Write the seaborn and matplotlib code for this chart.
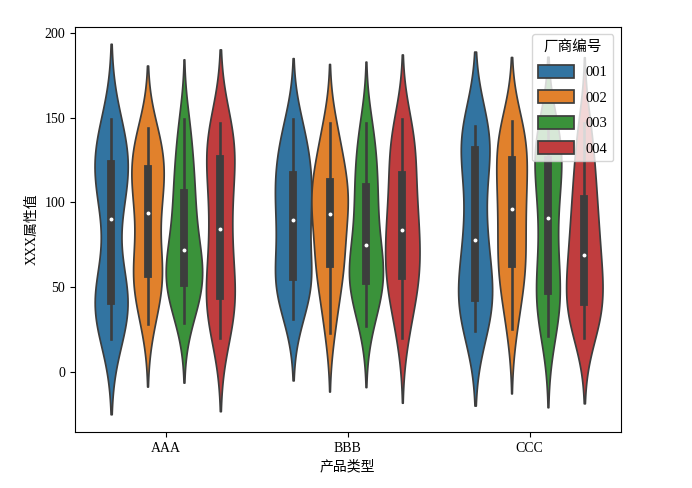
import pandas as pd
import numpy as np
import matplotlib
matplotlib.use("Agg")
import matplotlib.pyplot as plt
import seaborn as sns

plt.rcParams['font.family'] = ['Liberation Serif', 'Noto Sans CJK SC']
plt.rcParams['axes.unicode_minus'] = False

categories = ['AAA', 'BBB', 'CCC']
vendors = ['001', '002', '003', '004']

aaa_001 = [19.5, 28, 34, 38, 40, 42.5, 45, 48, 55, 84, 96, 108, 113, 117, 122, 124, 128, 134, 141, 149]
aaa_002 = [28, 38, 46, 52, 56, 58, 63, 70, 80, 90, 97, 104, 110, 114, 118, 124, 128, 133, 138, 144]
aaa_003 = [29, 38, 44, 48, 51, 53, 57, 61, 65, 69, 75, 80, 88, 97, 104, 110, 118, 128, 138, 149]
aaa_004 = [20, 28, 35, 40, 43, 45, 52, 62, 72, 80, 88, 98, 108, 116, 124, 130, 134, 138, 142, 147]

bbb_001 = [31, 40, 47, 52, 55, 56, 62, 72, 80, 86, 93, 98, 104, 110, 115, 120, 126, 133, 140, 149]
bbb_002 = [23, 36, 48, 56, 62, 64, 70, 78, 86, 91, 95, 99, 104, 108, 111, 116, 122, 130, 138, 147]
bbb_003 = [27, 37, 44, 49, 52, 54, 58, 62, 66, 72, 78, 85, 94, 102, 107, 114, 122, 130, 138, 147]
bbb_004 = [20, 33, 43, 50, 55, 57, 63, 70, 76, 81, 86, 92, 99, 106, 114, 123, 129, 135, 142, 149]

ccc_001 = [24, 30, 35, 39, 42, 44, 50, 58, 66, 74, 82, 92, 104, 118, 130, 134, 137, 140, 142, 145]
ccc_002 = [25, 38, 48, 56, 62, 64, 70, 78, 86, 93, 99, 105, 111, 118, 123, 130, 135, 139, 143, 148]
ccc_003 = [21, 30, 37, 42, 46, 48, 56, 66, 76, 86, 95, 104, 112, 118, 124, 129, 133, 137, 140, 144]
ccc_004 = [20, 27, 33, 37, 40, 42, 48, 55, 61, 66, 72, 78, 85, 93, 100, 107, 116, 126, 137, 147]

groups = {
    ('AAA', '001'): aaa_001, ('AAA', '002'): aaa_002, ('AAA', '003'): aaa_003, ('AAA', '004'): aaa_004,
    ('BBB', '001'): bbb_001, ('BBB', '002'): bbb_002, ('BBB', '003'): bbb_003, ('BBB', '004'): bbb_004,
    ('CCC', '001'): ccc_001, ('CCC', '002'): ccc_002, ('CCC', '003'): ccc_003, ('CCC', '004'): ccc_004,
}

rows = []
for (cat, ven), vals in groups.items():
    for v in vals:
        rows.append({'产品类型': cat, '厂商编号': ven, 'XXX属性值': v})
df = pd.DataFrame(rows)

fig, ax = plt.subplots(figsize=(6.92, 4.88), dpi=100)
fig.subplots_adjust(left=0.108, right=0.897, bottom=0.115, top=0.945)

sns.violinplot(data=df, x='产品类型', y='XXX属性值', hue='厂商编号',
               order=categories, hue_order=vendors, palette='tab10',
               saturation=0.75, inner='box', bw_adjust=0.92,
               inner_kws={'marker': 'o', 'markersize': 1.7}, ax=ax)

ax.set_ylim(-35.4, 203.5)
ax.set_yticks([0, 50, 100, 150, 200])
ax.set_xlabel('产品类型')
ax.set_ylabel('XXX属性值')
ax.legend(title='厂商编号', loc='upper right', fontsize=10.5, title_fontsize=10.5,
          handlelength=2.5, handleheight=1.0, labelspacing=0.75)

plt.savefig('out.png', dpi=100)
